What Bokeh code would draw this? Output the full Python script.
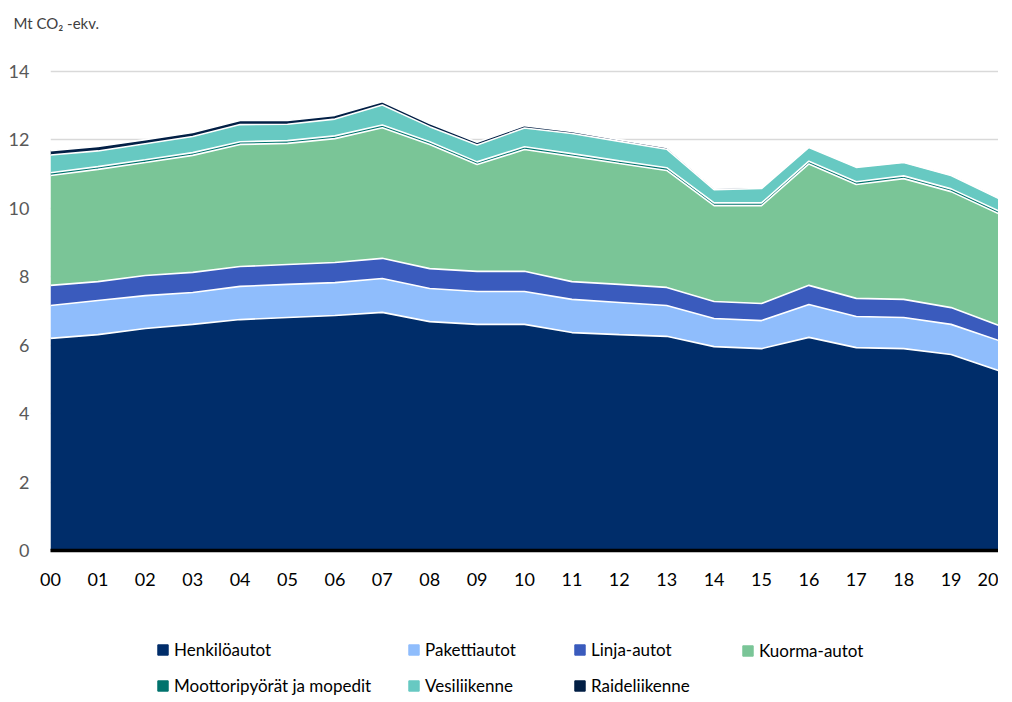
from bokeh.plotting import figure
from bokeh.layouts import column
from bokeh.models import ColumnDataSource, FixedTicker, Legend, LegendItem, Range1d, Title
from bokeh.embed import file_html
from bokeh.resources import INLINE

years = list(range(0, 21))
year_labels = ["00", "01", "02", "03", "04", "05", "06", "07", "08", "09", "10",
               "11", "12", "13", "14", "15", "16", "17", "18", "19", "20"]

henkiloautot = [6.20, 6.31, 6.49, 6.61, 6.75, 6.81, 6.87, 6.96, 6.69, 6.61, 6.61,
                6.37, 6.31, 6.26, 5.96, 5.90, 6.23, 5.93, 5.90, 5.73, 5.26]
pakettiautot = [0.96, 1.00, 0.96, 0.93, 0.97, 0.97, 0.96, 0.99, 0.97, 0.96, 0.96,
                0.97, 0.94, 0.90, 0.82, 0.82, 0.96, 0.91, 0.91, 0.88, 0.88]
linja_autot = [0.59, 0.55, 0.59, 0.59, 0.58, 0.58, 0.59, 0.59, 0.58, 0.59, 0.59,
               0.52, 0.53, 0.53, 0.50, 0.50, 0.56, 0.53, 0.53, 0.49, 0.44]
kuorma_autot = [3.21, 3.28, 3.30, 3.42, 3.57, 3.54, 3.62, 3.82, 3.63, 3.12, 3.56,
                3.66, 3.53, 3.42, 2.80, 2.86, 3.55, 3.33, 3.53, 3.39, 3.27]
moottoripyorat = [0.08, 0.08, 0.08, 0.08, 0.08, 0.08, 0.08, 0.08, 0.08, 0.08, 0.08,
                  0.08, 0.08, 0.08, 0.08, 0.08, 0.08, 0.08, 0.08, 0.08, 0.08]
vesiliikenne = [0.52, 0.46, 0.47, 0.47, 0.50, 0.48, 0.49, 0.58, 0.44, 0.49, 0.55,
                0.59, 0.57, 0.54, 0.39, 0.42, 0.40, 0.42, 0.39, 0.39, 0.36]
raideliikenne = [0.13, 0.13, 0.12, 0.12, 0.12, 0.11, 0.11, 0.10, 0.09, 0.08, 0.07,
                 0.06, 0.05, 0.05, 0.04, 0.03, 0.02, 0.02, 0.02, 0.02, 0.02]

series_names = ["Henkilöautot", "Pakettiautot", "Linja-autot", "Kuorma-autot",
                "Moottoripyörät ja mopedit", "Vesiliikenne", "Raideliikenne"]
series_values = [henkiloautot, pakettiautot, linja_autot, kuorma_autot,
                 moottoripyorat, vesiliikenne, raideliikenne]
colors = ["#002D6A", "#8FBDFC", "#3A5BBD", "#7AC597", "#00736D", "#67C9C2", "#021F45"]
unit_label = "Mt CO₂ -ekv."

keys = ["s%d" % i for i in range(len(series_names))]
data = {"x": years}
for k, v in zip(keys, series_values):
    data[k] = v
src = ColumnDataSource(data)

font = "Lato"
BL, FW, BR = 50, 948, 0


def strip(h, top=0):
    f = figure(frame_width=FW, frame_height=h, output_backend="svg", toolbar_location=None,
               x_range=Range1d(0, FW), y_range=Range1d(0, h),
               min_border_left=BL, min_border_right=BR, min_border_top=top,
               min_border_bottom=0, x_axis_location=None, y_axis_location=None)
    f.outline_line_color = None
    f.xgrid.grid_line_color = None
    f.ygrid.grid_line_color = None
    return f


# title strip
tf = strip(1)
tt = Title(text=unit_label, align="left", offset=-37, standoff=22,
           text_font=font, text_font_size="15px", text_font_style="normal",
           text_color="#404040")
tf.add_layout(tt, "above")

# main chart
p = figure(frame_width=FW, frame_height=481, output_backend="svg", toolbar_location=None,
           x_range=Range1d(0, 20), y_range=Range1d(0, 14.06),
           min_border_left=BL, min_border_right=BR, min_border_top=26,
           min_border_bottom=48)
p.outline_line_color = None

areas = p.varea_stack(stackers=keys, x="x", color=colors, source=src)
p.vline_stack(stackers=keys, x="x", source=src, line_color="white", line_width=1.6)

p.xaxis.ticker = FixedTicker(ticks=years)
p.xaxis.major_label_overrides = {y: lab for y, lab in zip(years, year_labels)}
p.xaxis.axis_line_color = "black"
p.xaxis.axis_line_width = 3.5
p.xaxis.major_tick_line_color = None
p.xaxis.minor_tick_line_color = None
p.xaxis.major_label_text_font = font
p.xaxis.major_label_text_font_size = "18px"
p.xaxis.major_label_text_color = "black"
p.xaxis.major_label_standoff = 16

p.yaxis.ticker = FixedTicker(ticks=[0, 2, 4, 6, 8, 10, 12, 14])
p.yaxis.axis_line_color = None
p.yaxis.major_tick_line_color = None
p.yaxis.minor_tick_line_color = None
p.yaxis.major_label_text_font = font
p.yaxis.major_label_text_font_size = "18px"
p.yaxis.major_label_text_color = "#595959"
p.yaxis.major_label_standoff = 15

p.xgrid.grid_line_color = None
p.ygrid.grid_line_color = "#D9D9D9"
p.ygrid.grid_line_width = 1.5

# legend strip
lf = strip(98)
dummies = [lf.quad(left=[-20], right=[-10], bottom=[-20], top=[-10], color=c) for c in colors]

columns = [[0, 4], [1, 5], [2, 6], [3]]
col_x = [106, 357, 523, 691]
for idxs, cx in zip(columns, col_x):
    items = [LegendItem(label=series_names[i], renderers=[dummies[i]]) for i in idxs]
    ybot = 0 if len(idxs) == 2 else 35
    lg = Legend(items=items, location=(cx, ybot), orientation="vertical",
                padding=0, margin=0, spacing=15, border_line_color=None,
                background_fill_alpha=0, glyph_width=13, glyph_height=13,
                label_standoff=5, label_height=20,
                label_text_font=font, label_text_font_size="17px",
                label_text_color="black")
    lf.add_layout(lg, "center")

layout = column(tf, p, lf, spacing=0)
open("out.html", "w").write(file_html(layout, INLINE))
